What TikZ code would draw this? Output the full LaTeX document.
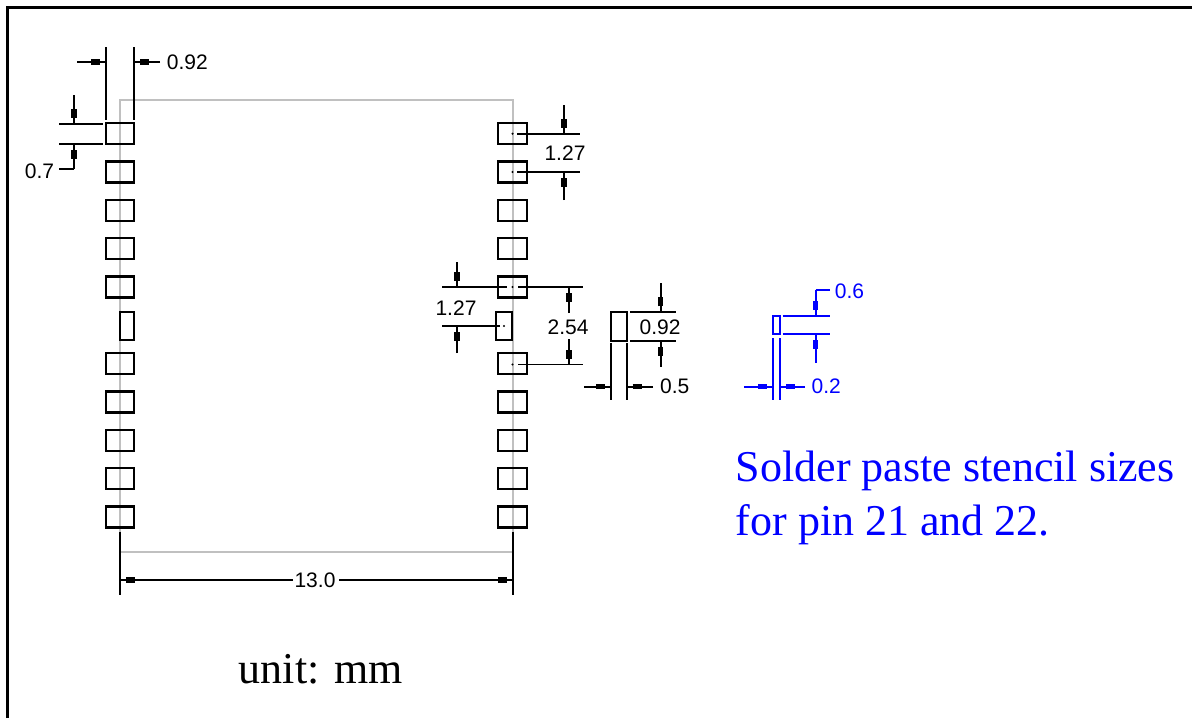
\documentclass[tikz,border=0pt]{standalone}
\usepackage{fontspec}
\setmainfont{Liberation Serif}
\newfontfamily\dimfont{Liberation Sans}
\usetikzlibrary{calc}
\definecolor{outlinegray}{RGB}{192,192,192}
\definecolor{stencilblue}{RGB}{0,0,255}
\newcommand\dimarr[2]{%
  \draw (#1) -- (#2);
  \draw[line width=2.6pt,line cap=butt] ($(#2)!3pt!(#1)$) -- ($(#2)!7.5pt!(#1)$);%
}
\tikzset{
  padbox/.style={draw=black,line width=1.1pt},
  dimtext/.style={font=\dimfont\fontsize{10.5}{12}\selectfont,inner sep=0pt},
  bigtext/.style={font=\fontsize{22}{26}\selectfont,inner sep=0pt},
  dotmark/.style={fill=black,circle,inner sep=0pt,minimum size=1.2pt}
}
\begin{document}
\begin{tikzpicture}[x=0.5pt,y=-0.5pt,line width=0.9pt]
\useasboundingbox (0,0) rectangle (1192,718);
% frame
\draw[line width=1.5pt] (7,718) -- (7,7) -- (1192,7);
% module outline
\draw[outlinegray,line width=1pt] (120,100) rectangle (513,552);
% pads
\foreach \i in {0,...,10}{
  \pgfmathsetmacro\yc{133.7+\i*38.33}
  \ifnum\i=5
    \draw[padbox] (120,311.7) rectangle (134.3,340);
    \draw[padbox] (496,311.7) rectangle (512.3,340);
  \else
    \draw[padbox] (106,\yc-10.5) rectangle (134,\yc+10.5);
    \draw[padbox] (498.3,\yc-10.5) rectangle (526.7,\yc+10.5);
  \fi
}
% centre marks
\node[dotmark] (d1) at (512.5,133.7) {};
\node[dotmark] (d2) at (512.5,172) {};
\node[dotmark] (d5) at (512.5,287) {};
\node[dotmark] (d6) at (504,326) {};
\node[dotmark] (d7) at (512.5,364.5) {};

% ---- 0.92 top-left
\draw (106,47) -- (106,120);
\draw (134,47) -- (134,120);
\coordinate (a1s) at (77,62);  \coordinate (a1t) at (106,62);
\coordinate (a2s) at (160,62); \coordinate (a2t) at (134,62);
\dimarr{a1s}{a1t}
\dimarr{a2s}{a2t}
\node[dimtext,anchor=west] (t092a) at (166,62) {0.92};

% ---- 0.7
\draw (59,124) -- (103,124);
\draw (59,144) -- (103,144);
\coordinate (b1s) at (74,95);  \coordinate (b1t) at (74,124);
\coordinate (b2s) at (74,169); \coordinate (b2t) at (74,144);
\dimarr{b1s}{b1t}
\dimarr{b2s}{b2t}
\draw (b2s) -- (59,169);
\node[dimtext,anchor=east] (t07) at (55,171) {0.7};

% ---- 1.27 top-right
\draw (517,133.7) -- (580,133.7);
\draw (517,172) -- (580,172);
\coordinate (c1s) at (564,105); \coordinate (c1t) at (564,133.7);
\coordinate (c2s) at (564,200); \coordinate (c2t) at (564,172);
\dimarr{c1s}{c1t}
\dimarr{c2s}{c2t}
\node[dimtext] (t127a) at (565,153) {1.27};

% ---- 1.27 middle
\draw (442,287) -- (507,287);
\draw (442,326) -- (500,326);
\coordinate (e1s) at (457,262); \coordinate (e1t) at (457,287);
\coordinate (e2s) at (457,353); \coordinate (e2t) at (457,326);
\dimarr{e1s}{e1t}
\dimarr{e2s}{e2t}
\node[dimtext] (t127b) at (456,308) {1.27};

% ---- 2.54
\draw (518,287) -- (583,287);
\draw (518,364.5) -- (583,364.5);
\coordinate (f1s) at (569,313); \coordinate (f1t) at (569,287);
\coordinate (f2s) at (569,339); \coordinate (f2t) at (569,364.5);
\dimarr{f1s}{f1t}
\dimarr{f2s}{f2t}
\node[dimtext] (t254) at (568,327) {2.54};

% ---- detail pad 0.5 x 0.92
\draw[padbox] (610.7,312.3) rectangle (626.7,340.7);
\draw (630,312.3) -- (676,312.3);
\draw (630,340.7) -- (676,340.7);
\coordinate (g1s) at (660.7,283.3); \coordinate (g1t) at (660.7,312.3);
\coordinate (g2s) at (660.7,366.7); \coordinate (g2t) at (660.7,340.7);
\dimarr{g1s}{g1t}
\dimarr{g2s}{g2t}
\node[dimtext] (t092b) at (660,327) {0.92};
\draw (610.7,343.3) -- (610.7,400);
\draw (626.7,343.3) -- (626.7,400);
\coordinate (h1s) at (584,386.7); \coordinate (h1t) at (610.7,386.7);
\coordinate (h2s) at (653,386.7); \coordinate (h2t) at (626.7,386.7);
\dimarr{h1s}{h1t}
\dimarr{h2s}{h2t}
\node[dimtext,anchor=west] (t05) at (659.3,386.7) {0.5};

% ---- blue stencil detail
\begin{scope}[stencilblue,every node/.append style={text=stencilblue}]
\draw[line width=1.1pt] (772.7,315.7) rectangle (780,334.3);
\draw (782.7,315.7) -- (830,315.7);
\draw (782.7,334) -- (830,334);
\coordinate (k1s) at (815.7,290);   \coordinate (k1t) at (815.7,315.7);
\coordinate (k2s) at (815.7,362.7); \coordinate (k2t) at (815.7,334);
\dimarr{k1s}{k1t}
\dimarr{k2s}{k2t}
\draw (k1s) -- (830,290);
\node[dimtext,anchor=west] (t06) at (834,291.7) {0.6};
\draw (772.7,338.3) -- (772.7,400);
\draw (780,338.3) -- (780,400);
\coordinate (m1s) at (744,386.7); \coordinate (m1t) at (772.7,386.7);
\coordinate (m2s) at (805,386.7); \coordinate (m2t) at (780,386.7);
\dimarr{m1s}{m1t}
\dimarr{m2s}{m2t}
\node[dimtext,anchor=west] (t02) at (810.7,386.7) {0.2};
\node[bigtext,anchor=base west] (note1) at (735,481) {Solder paste stencil sizes};
\node[bigtext,anchor=base west] (note2) at (735,535) {for pin 21 and 22.};
\end{scope}

% ---- 13.0
\draw (120,531.7) -- (120,595);
\draw (512.7,531.7) -- (512.7,595);
\coordinate (n1s) at (293,580); \coordinate (n1t) at (120,580);
\coordinate (n2s) at (339,580); \coordinate (n2t) at (512.7,580);
\dimarr{n1s}{n1t}
\dimarr{n2s}{n2t}
\node[dimtext] (t130) at (315,580) {13.0};

% ---- unit
\node[bigtext,anchor=base west] (unit) at (238,683) {unit: mm};
\end{tikzpicture}
\end{document}
